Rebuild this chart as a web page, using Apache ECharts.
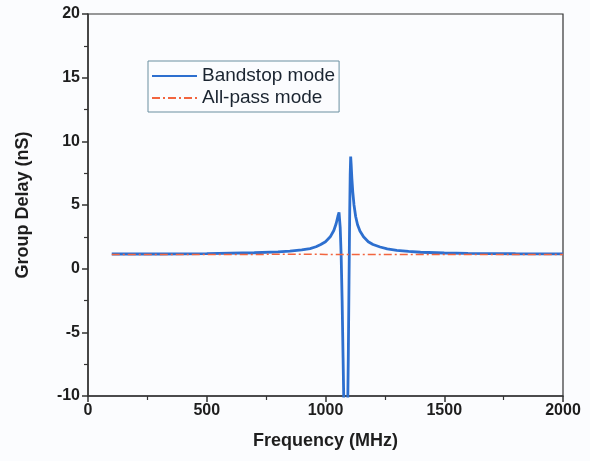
<!DOCTYPE html>
<html>
<head>
<meta charset="utf-8">
<script src="https://cdn.jsdelivr.net/npm/echarts@6/dist/echarts.min.js"></script>
<style>
html,body{margin:0;padding:0;background:#fbfcfe;}
#chart{width:590px;height:461px;}
</style>
</head>
<body>
<div id="chart"></div>
<script>
// Bandstop mode
var freqBand  = [100, 300, 500, 700, 800, 850, 900, 935, 960, 980, 1000, 1020, 1035, 1045, 1052, 1057, 1062, 1066, 1070, 1074, 1078, 1082, 1088, 1093, 1096, 1099, 1102, 1104, 1106, 1108, 1111, 1115, 1120, 1127, 1135, 1145, 1160, 1180, 1200, 1230, 1260, 1300, 1350, 1400, 1500, 1600, 1800, 2000];
var delayBand = [1.15, 1.15, 1.18, 1.25, 1.32, 1.38, 1.47, 1.58, 1.72, 1.9, 2.12, 2.5, 3.0, 3.55, 4.1, 4.43, 3.2, 1.0, -2.5, -7.0, -11.5, -14, -14, -11.5, -7.0, -1.0, 4.5, 7.4, 8.8, 8.2, 7.1, 6.0, 5.0, 4.1, 3.45, 2.95, 2.5, 2.12, 1.9, 1.7, 1.55, 1.44, 1.35, 1.29, 1.23, 1.2, 1.17, 1.16];
// All-pass mode
var freqPass  = [100, 300, 500, 700, 900, 1000, 1100, 1200, 1300, 1500, 1700, 1900, 2000];
var delayPass = [1.12, 1.12, 1.12, 1.12, 1.13, 1.12, 1.12, 1.12, 1.12, 1.12, 1.12, 1.12, 1.12];
// Axes
var xTicks = {min: 0, max: 2000, interval: 500};
var yTicks = {min: -10, max: 20, interval: 5};

function pairs(xs, ys){ return xs.map(function(x,i){ return [x, ys[i]]; }); }

var chart = echarts.init(document.getElementById('chart'), null, {renderer:'canvas'});
var axisFont = {fontFamily:'Liberation Sans, Arial, sans-serif', fontWeight:'bold', fontSize:16, color:'#1e1e1e'};
chart.setOption({
  backgroundColor:'#fbfcfe',
  animation:false,
  grid:{left:88, right:27, top:14, bottom:65, show:true, borderColor:'#333', borderWidth:1.2, backgroundColor:'transparent'},
  legend:{
    left:148, top:61, orient:'vertical',
    itemWidth:45, itemHeight:14, itemGap:2, itemTextGap:6,
    padding:[5,4,4,3],
    borderColor:'#6a8fa0', borderWidth:1,
    itemStyle:{opacity:0},
    textStyle:{fontFamily:'Liberation Sans, Arial, sans-serif', fontSize:19, color:'#1a2430', lineHeight:20},
    data:['Bandstop mode','All-pass mode']
  },
  xAxis:{
    type:'value', min:xTicks.min, max:xTicks.max, interval:xTicks.interval,
    name:'Frequency (MHz)', nameLocation:'middle', nameGap:36,
    nameTextStyle:{fontFamily:'Liberation Sans, Arial, sans-serif', fontWeight:'bold', fontSize:18, color:'#1e1e1e'},
    axisLine:{onZero:false, lineStyle:{color:'#333', width:1.5}},
    axisTick:{show:true, inside:false, length:6, lineStyle:{color:'#333', width:1.5}},
    minorTick:{show:true, splitNumber:2, length:4, lineStyle:{color:'#333', width:1.2}},
    splitLine:{show:false},
    axisLabel:Object.assign({margin:7, formatter:function(v){return String(v);}}, axisFont)
  },
  yAxis:{
    type:'value', min:yTicks.min, max:yTicks.max, interval:yTicks.interval,
    name:'Group Delay (nS)', nameLocation:'middle', nameGap:56, nameRotate:90,
    nameTextStyle:{fontFamily:'Liberation Sans, Arial, sans-serif', fontWeight:'bold', fontSize:18, color:'#1e1e1e'},
    axisLine:{show:true, onZero:false, lineStyle:{color:'#333', width:1.5}},
    axisTick:{show:true, inside:false, length:6, lineStyle:{color:'#333', width:1.5}},
    minorTick:{show:true, splitNumber:2, length:4, lineStyle:{color:'#333', width:1.2}},
    splitLine:{show:false},
    axisLabel:Object.assign({margin:8, formatter:function(v){return String(v);}}, axisFont)
  },
  series:[
    {
      name:'Bandstop mode', type:'line', symbol:'none', clip:true, z:3,
      data:pairs(freqBand, delayBand),
      lineStyle:{color:'#2d6fcf', width:2.8},
      itemStyle:{color:'#2d6fcf'}
    },
    {
      name:'All-pass mode', type:'line', symbol:'none', clip:true, z:4,
      data:pairs(freqPass, delayPass),
      lineStyle:{color:'#f2653f', width:1.5, type:[8,3,2,3]},
      itemStyle:{color:'#f2653f'}
    }
  ]
});
</script>
</body>
</html>
